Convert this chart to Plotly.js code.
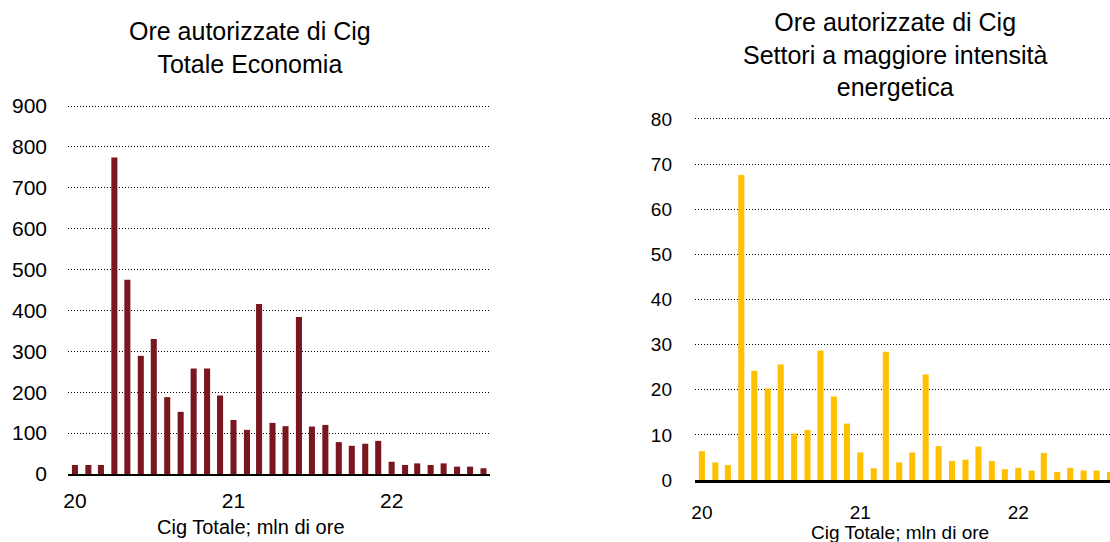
<!DOCTYPE html>
<html>
<head>
<meta charset="utf-8">
<script src="https://cdn.plot.ly/plotly-3.0.1.min.js"></script>
<style>
html,body{margin:0;padding:0;background:#fff;}
#chart{width:1110px;height:542px;}
</style>
</head>
<body>
<div id="chart"></div>
<script>
// Months (Jan 2020 - Aug 2022)
var months = ['2020-01-01','2020-02-01','2020-03-01','2020-04-01','2020-05-01','2020-06-01','2020-07-01','2020-08-01','2020-09-01','2020-10-01','2020-11-01','2020-12-01',
              '2021-01-01','2021-02-01','2021-03-01','2021-04-01','2021-05-01','2021-06-01','2021-07-01','2021-08-01','2021-09-01','2021-10-01','2021-11-01','2021-12-01',
              '2022-01-01','2022-02-01','2022-03-01','2022-04-01','2022-05-01','2022-06-01','2022-07-01','2022-08-01'];
// Cig Totale Economia, mln di ore
var totaleEconomia = [22,22,22,774,475,289,330,188,152,258,258,192,
                      132,108,416,125,117,384,116,120,78,69,74,81,
                      30,22,26,22,26,18,18,14];
// Settori a maggiore intensità energetica, mln di ore
var settoriEnergetici = [6.4,3.9,3.3,67.6,24.2,20.3,25.6,10.3,11.1,28.7,18.5,12.5,
                         6.1,2.6,28.4,3.9,6.1,23.4,7.5,4.2,4.5,7.4,4.2,2.4,
                         2.7,2.1,6.0,1.8,2.7,2.1,2.1,1.8];
var leftTitle = 'Ore autorizzate di Cig<br>Totale Economia';
var rightTitle = 'Ore autorizzate di Cig<br>Settori a maggiore intensità<br>energetica';
var xTitle = 'Cig Totale; mln di ore';

var FONT = 'Liberation Sans, Arial, sans-serif';

var traces = [
  {type:'bar', x: months, y: totaleEconomia, xaxis:'x', yaxis:'y',
   marker:{color:'#7a1620'}, hoverinfo:'x+y'},
  {type:'bar', x: months, y: settoriEnergetici, xaxis:'x2', yaxis:'y2',
   marker:{color:'#ffc000'}, hoverinfo:'x+y'}
];

var xCommon = {
  type:'date', tickformat:'%y', dtick:'M12', tick0:'2020-01-01',
  showgrid:false, zeroline:false, ticks:'', showline:true, linecolor:'#000',
  automargin:false
};
var yCommon = {
  showgrid:true, gridcolor:'#000', griddash:'1.2px,1.8px', gridwidth:1,
  zeroline:false, ticks:'', showline:false, automargin:false
};

// left: 0 at y=474, 900 at y=106 ; range to 910
var lTop = 474 - (474-106)*910/900;
// right: 0 at y=480, 80 at y=119 ; range to 81
var rTop = 480 - (480-119)*81/80;

var layout = {
  width:1110, height:542,
  margin:{l:0, r:0, t:0, b:0},
  paper_bgcolor:'#fff', plot_bgcolor:'#fff',
  showlegend:false, bargap:0.5,
  font:{family:FONT, color:'#000'},
  xaxis: Object.assign({}, xCommon, {
    domain:[68/1110, 490/1110], anchor:'y',
    range:['2019-12-16','2022-08-16'],
    linewidth:1.5, ticklabelstandoff:7,
    tickfont:{family:FONT, size:21, color:'#000'}
  }),
  yaxis: Object.assign({}, yCommon, {
    domain:[(542-474)/542, (542-lTop)/542], anchor:'x',
    range:[0, 910], dtick:100, ticklabelstandoff:20,
    tickfont:{family:FONT, size:21, color:'#000'}
  }),
  xaxis2: Object.assign({}, xCommon, {
    domain:[695/1110, 1], anchor:'y2',
    range:['2019-12-16','2022-08-01'],
    linewidth:2.5, ticklabelstandoff:14,
    tickfont:{family:FONT, size:19, color:'#000'}
  }),
  yaxis2: Object.assign({}, yCommon, {
    domain:[(542-480)/542, (542-rTop)/542], anchor:'x2',
    range:[0, 81], dtick:10, ticklabelstandoff:22,
    tickfont:{family:FONT, size:19, color:'#000'}
  }),
  annotations:[
    {text:leftTitle, xref:'paper', yref:'paper', x:250/1110, y:1-15/542,
     xanchor:'center', yanchor:'top', showarrow:false, align:'center',
     font:{family:FONT, size:25, color:'#000'}},
    {text:rightTitle, xref:'paper', yref:'paper', x:895/1110, y:1-6/542,
     xanchor:'center', yanchor:'top', showarrow:false, align:'center',
     font:{family:FONT, size:25, color:'#000'}},
    {text:xTitle, xref:'paper', yref:'paper', x:251/1110, y:1-527/542,
     xanchor:'center', yanchor:'middle', showarrow:false,
     font:{family:FONT, size:20, color:'#000'}},
    {text:xTitle, xref:'paper', yref:'paper', x:900/1110, y:1-532/542,
     xanchor:'center', yanchor:'middle', showarrow:false,
     font:{family:FONT, size:19, color:'#000'}}
  ]
};

Plotly.newPlot('chart', traces, layout, {staticPlot:true, displayModeBar:false});
</script>
</body>
</html>
